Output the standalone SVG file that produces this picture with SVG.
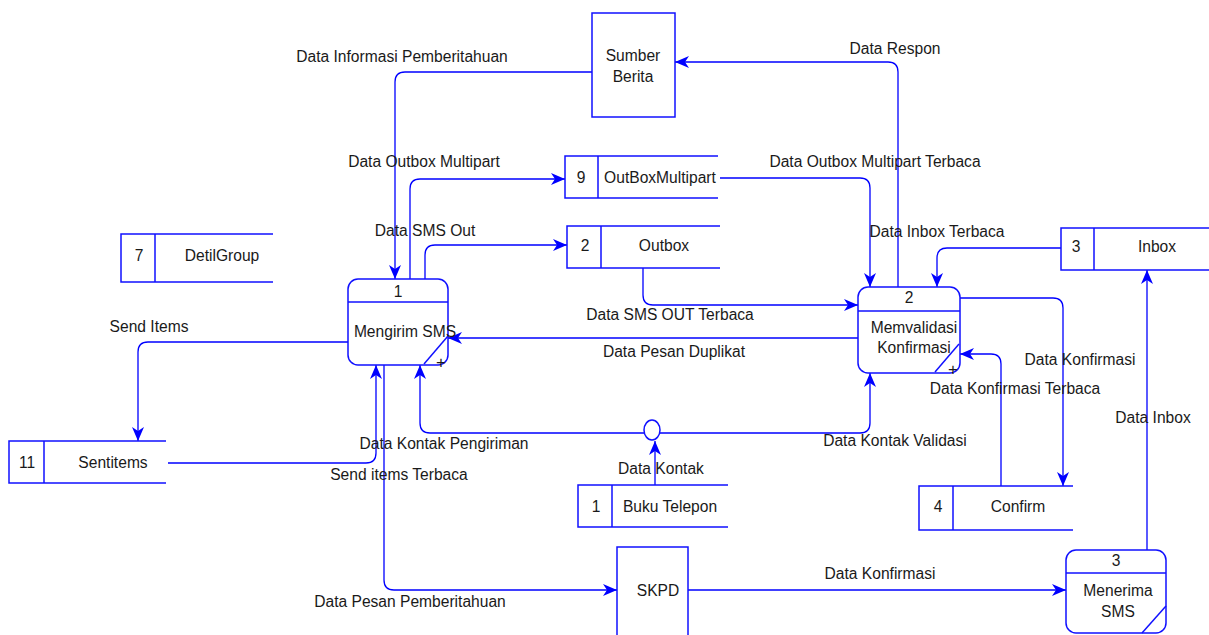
<svg xmlns="http://www.w3.org/2000/svg" width="1209" height="635" viewBox="0 0 1209 635">
<defs>
<marker id="arr" markerUnits="userSpaceOnUse" markerWidth="16" markerHeight="12" refX="14" refY="6" orient="auto">
<path d="M0,0 L14,6 L0,12 L4,6 z" fill="#0000ff"/>
</marker>
<style>
.s{fill:none;stroke:#1010ff;stroke-width:1.5}
.b{fill:#fff;stroke:#1010ff;stroke-width:1.5}
.c{fill:none;stroke:#0000ff;stroke-width:1.3;marker-end:url(#arr)}
.t{font-family:"Liberation Sans",Arial,sans-serif;font-size:15.6px;fill:#1a1a1a;text-anchor:middle}
.p{font-family:"Liberation Sans",Arial,sans-serif;font-size:17px;fill:#1a1a1a;text-anchor:middle}
</style>
</defs>
<rect width="1209" height="635" fill="#fff"/>

<g id="connectors">
<path class="c" d="M592,72 H405 Q395,72 395,82 V279"/>
<path class="c" d="M898,287 V72 Q898,62 888,62 H675"/>
<path class="c" d="M410,279 V189 Q410,179 420,179 H565"/>
<path class="c" d="M425,279 V255 Q425,245 435,245 H567"/>
<path class="c" d="M720,178 H860 Q870,178 870,188 V287"/>
<path class="c" d="M643,268 V295 Q643,305 653,305 H858"/>
<path class="c" d="M1061,248 H947 Q937,248 937,258 V287"/>
<path class="c" d="M858,338 H448"/>
<path class="c" d="M960,298 H1053 Q1063,298 1063,308 V486"/>
<path class="c" d="M1001,486 V364 Q1001,354 991,354 H960"/>
<path class="c" d="M1147,550 V270"/>
<path class="c" d="M688,590 H1066"/>
<path class="c" d="M384,365 V580 Q384,590 394,590 H617"/>
<path class="c" d="M348,342 H148 Q138,342 138,352 V441"/>
<path class="c" d="M168,463 H366 Q376,463 376,453 V365"/>
<path class="c" d="M655,485 V441"/>
<path class="c" d="M644,433 H430 Q420,433 420,423 V365"/>
<path class="c" d="M660,433 H860 Q870,433 870,423 V373"/>
<ellipse cx="652" cy="430" rx="8" ry="10" class="b"/>
<text class="t" x="402" y="62">Data Informasi Pemberitahuan</text>
<text class="t" x="895" y="54">Data Respon</text>
<text class="t" x="424" y="167">Data Outbox Multipart</text>
<text class="t" x="425" y="236">Data SMS Out</text>
<text class="t" x="875" y="167">Data Outbox Multipart Terbaca</text>
<text class="t" x="670" y="320">Data SMS OUT Terbaca</text>
<text class="t" x="937" y="237">Data Inbox Terbaca</text>
<text class="t" x="674" y="357">Data Pesan Duplikat</text>
<text class="t" x="1080" y="365">Data Konfirmasi</text>
<text class="t" x="1015" y="394">Data Konfirmasi Terbaca</text>
<text class="t" x="1153" y="423">Data Inbox</text>
<text class="t" x="880" y="579">Data Konfirmasi</text>
<text class="t" x="410" y="607">Data Pesan Pemberitahuan</text>
<text class="t" x="149" y="332">Send Items</text>
<text class="t" x="399" y="480">Send items Terbaca</text>
<text class="t" x="661" y="474">Data Kontak</text>
<text class="t" x="444" y="449">Data Kontak Pengiriman</text>
<text class="t" x="895" y="446">Data Kontak Validasi</text>
</g>

<g id="p1">
<rect class="b" x="348" y="279" width="100" height="86" rx="10"/>
<line class="s" x1="348" y1="302" x2="448" y2="302"/>
<line class="s" x1="448" y1="336" x2="424" y2="364"/>
<text class="t" x="398" y="297">1</text>
<text class="t" x="405" y="337">Mengirim SMS</text>
<text class="p" x="441" y="368">+</text>
</g>

<g id="p2">
<rect class="b" x="858" y="287" width="102" height="86" rx="10"/>
<line class="s" x1="858" y1="311" x2="960" y2="311"/>
<line class="s" x1="959" y1="344" x2="935" y2="372"/>
<text class="t" x="909" y="303">2</text>
<text class="t" x="914" y="333">Memvalidasi</text>
<text class="t" x="914" y="353">Konfirmasi</text>
<text class="p" x="953" y="375">+</text>
</g>

<g id="p3">
<rect class="b" x="1066" y="550" width="100" height="83" rx="10"/>
<line class="s" x1="1066" y1="573" x2="1166" y2="573"/>
<line class="s" x1="1166" y1="606" x2="1142" y2="633"/>
<text class="t" x="1116" y="566">3</text>
<text class="t" x="1118" y="596">Menerima</text>
<text class="t" x="1118" y="617">SMS</text>
</g>

<g id="sumber">
<rect class="b" x="592" y="13" width="83" height="104"/>
<text class="t" x="633" y="61">Sumber</text>
<text class="t" x="633" y="82">Berita</text>
</g>

<g id="skpd">
<rect class="b" x="617" y="547" width="71" height="100"/>
<text class="t" x="658" y="596">SKPD</text>
</g>

<g id="ds9">
<path class="s" d="M718,156 H565 V198 H718 M598,156 V198"/>
<text class="t" x="581" y="183">9</text>
<text class="t" x="660" y="183">OutBoxMultipart</text>
</g>

<g id="ds2">
<path class="s" d="M720,226 H567 V268 H720 M601,226 V268"/>
<text class="t" x="585" y="251">2</text>
<text class="t" x="664" y="251">Outbox</text>
</g>

<g id="ds7">
<path class="s" d="M273,234 H121 V282 H273 M155,234 V282"/>
<text class="t" x="139" y="261">7</text>
<text class="t" x="222" y="261">DetilGroup</text>
</g>

<g id="ds3">
<path class="s" d="M1209,228 H1061 V270 H1209 M1094,228 V270"/>
<text class="t" x="1076" y="252">3</text>
<text class="t" x="1157" y="252">Inbox</text>
</g>

<g id="ds11">
<path class="s" d="M166,441 H9 V483 H166 M44,441 V483"/>
<text class="t" x="27" y="468">11</text>
<text class="t" x="113" y="468">Sentitems</text>
</g>

<g id="ds1">
<path class="s" d="M728,485 H578 V527 H728 M612,485 V527"/>
<text class="t" x="596" y="512">1</text>
<text class="t" x="670" y="512">Buku Telepon</text>
</g>

<g id="ds4">
<path class="s" d="M1073,486 H919 V530 H1073 M953,486 V530"/>
<text class="t" x="938" y="512">4</text>
<text class="t" x="1018" y="512">Confirm</text>
</g>
</svg>
